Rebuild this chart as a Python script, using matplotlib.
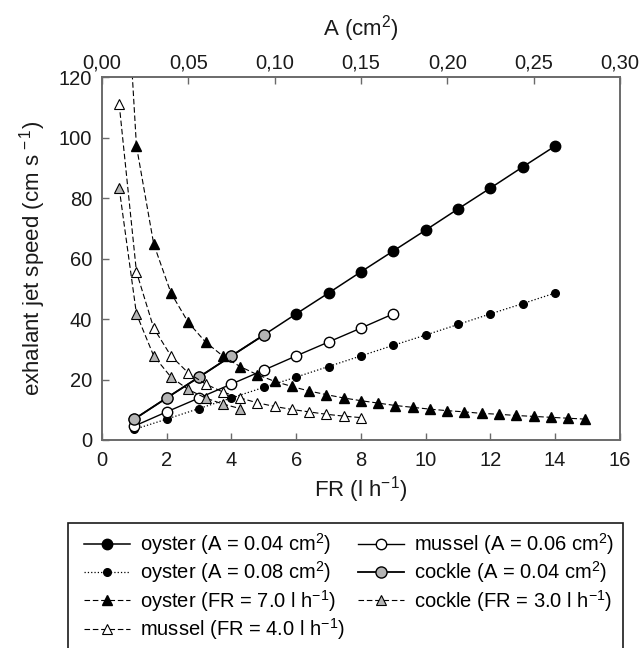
import numpy as np
import matplotlib
matplotlib.use('Agg')
import matplotlib.pyplot as plt
from matplotlib.patches import Rectangle

plt.rcParams['font.family'] = ['Liberation Sans', 'DejaVu Sans']
plt.rcParams['mathtext.fontset'] = 'custom'
plt.rcParams['mathtext.rm'] = 'Liberation Sans'
plt.rcParams['mathtext.it'] = 'Liberation Sans:italic'
plt.rcParams['mathtext.bf'] = 'Liberation Sans:bold'

# series against FR (bottom axis)
fr_oyster = [1, 2, 3, 4, 5, 6, 7, 8, 9, 10, 11, 12, 13, 14]
v_oyster_a004 = [6.9, 13.9, 20.8, 27.8, 34.7, 41.7, 48.6, 55.6, 62.5, 69.4, 76.4, 83.3, 90.3, 97.2]
v_oyster_a008 = [3.5, 6.9, 10.4, 13.9, 17.4, 20.8, 24.3, 27.8, 31.3, 34.7, 38.2, 41.7, 45.1, 48.6]
fr_mussel = [1, 2, 3, 4, 5, 6, 7, 8, 9]
v_mussel_a006 = [4.6, 9.3, 13.9, 18.5, 23.1, 27.8, 32.4, 37.0, 41.7]
fr_cockle = [1, 2, 3, 4, 5]
v_cockle_a004 = [6.9, 13.9, 20.8, 27.8, 34.7]

# series against A (top axis)
a_oyster = [0.02, 0.03, 0.04, 0.05, 0.06, 0.07, 0.08, 0.09, 0.10, 0.11, 0.12, 0.13, 0.14,
            0.15, 0.16, 0.17, 0.18, 0.19, 0.20, 0.21, 0.22, 0.23, 0.24, 0.25, 0.26, 0.27, 0.28]
v_oyster_fr7 = [97.2, 64.8, 48.6, 38.9, 32.4, 27.8, 24.3, 21.6, 19.4, 17.7, 16.2, 15.0, 13.9,
                13.0, 12.2, 11.4, 10.8, 10.2, 9.7, 9.3, 8.8, 8.5, 8.1, 7.8, 7.5, 7.2, 6.9]
a_mussel = [0.01, 0.02, 0.03, 0.04, 0.05, 0.06, 0.07, 0.08, 0.09, 0.10, 0.11, 0.12, 0.13, 0.14, 0.15]
v_mussel_fr4 = [111.1, 55.6, 37.0, 27.8, 22.2, 18.5, 15.9, 13.9, 12.3, 11.1, 10.1, 9.3, 8.5, 7.9, 7.4]
a_cockle = [0.01, 0.02, 0.03, 0.04, 0.05, 0.06, 0.07, 0.08]
v_cockle_fr3 = [83.3, 41.7, 27.8, 20.8, 16.7, 13.9, 11.9, 10.4]
# oyster FR=7 curve runs off the top of the plot
a_oyster_top = [0.01, 0.02]
v_oyster_top = [194.4, 97.2]

fr_ticks = [0, 2, 4, 6, 8, 10, 12, 14, 16]
v_ticks = [0, 20, 40, 60, 80, 100, 120]
a_ticks = [0.0, 0.05, 0.10, 0.15, 0.20, 0.25, 0.30]
a_ticklabels = ['0,00', '0,05', '0,10', '0,15', '0,20', '0,25', '0,30']

spine_col = '#6a6a6a'
txt_col = '#1a1a1a'
grey_fill = '#b4b4b4'
dash = (5, 2.5)

fig = plt.figure(figsize=(6.41, 6.48), dpi=100)
ax = fig.add_axes([0.159, 0.321, 0.808, 0.560])
ax2 = ax.twiny()

h1, = ax.plot(fr_oyster, v_oyster_a004, '-o', color='k', lw=1.1, ms=7.5, mfc='k', mec='k',
              label='oyster (A = 0.04 cm$^2$)')
h2, = ax.plot(fr_oyster, v_oyster_a008, ':o', color='k', lw=0.9, ms=5.5, mfc='k', mec='k',
              label='oyster (A = 0.08 cm$^2$)')
h5, = ax.plot(fr_mussel, v_mussel_a006, '-o', color='k', lw=1, ms=7.5, mfc='white', mec='k',
              label='mussel (A = 0.06 cm$^2$)')
h6, = ax.plot(fr_cockle, v_cockle_a004, '-o', color='k', lw=1.3, ms=8, mfc=grey_fill, mec='k',
              label='cockle (A = 0.04 cm$^2$)')

ax2.plot(a_oyster_top, v_oyster_top, '--', color='k', lw=0.8, dashes=dash)
h3, = ax2.plot(a_oyster, v_oyster_fr7, '--^', color='k', lw=0.8, dashes=dash, ms=7.5,
               mfc='k', mec='k', label='oyster (FR = 7.0 l h$^{-1}$)')
h4, = ax2.plot(a_mussel, v_mussel_fr4, '--^', color='k', lw=0.8, dashes=dash, ms=7.5,
               mfc='white', mec='k', mew=0.8, label='mussel (FR = 4.0 l h$^{-1}$)')
h7, = ax2.plot(a_cockle, v_cockle_fr3, '--^', color='k', lw=0.8, dashes=dash, ms=7.5,
               mfc=grey_fill, mec='k', mew=0.8, label='cockle (FR = 3.0 l h$^{-1}$)')

ax.set_xlim(0, 16)
ax.set_ylim(0, 120)
ax2.set_xlim(0, 0.30)
ax.set_xticks(fr_ticks)
ax.set_yticks(v_ticks)
ax2.set_xticks(a_ticks)
ax2.set_xticklabels(a_ticklabels)

for a in (ax, ax2):
    for s in a.spines.values():
        s.set_color(spine_col)
        s.set_linewidth(1.2)
    a.tick_params(direction='in', length=5, width=1, color=spine_col,
                  labelsize=14.5, labelcolor=txt_col)
ax.tick_params(top=False, right=False)
ax.tick_params(axis='x', pad=8)
ax.tick_params(axis='y', pad=7)
ax2.tick_params(top=True, bottom=False, right=False, pad=3)

ax.set_xlabel('FR (l h$^{-1}$)', fontsize=16, color=txt_col, labelpad=3)
ax.set_ylabel('exhalant jet speed (cm s$^{\\,-1}$)', fontsize=16, color=txt_col, labelpad=8)
ax2.set_xlabel('A (cm$^2$)', fontsize=16, color=txt_col, labelpad=13)

# legend box runs off the bottom of the figure
fig.add_artist(Rectangle((68 / 641, -0.05), (623 - 68) / 641, 0.05 + 1 - 523 / 648,
                         transform=fig.transFigure, fill=False, ec=txt_col, lw=1.2))

handles = [h1, h2, h3, h4, h5, h6, h7]
leg = fig.legend(handles, [h.get_label() for h in handles], ncol=2, loc='upper left',
                 bbox_to_anchor=(84 / 641, 0.0, (614 - 84) / 641, 1 - 531 / 648),
                 mode='expand', borderaxespad=0, fontsize=14.5, frameon=False,
                 handlelength=2.3, handletextpad=0.5, labelspacing=0.12, borderpad=0,
                 columnspacing=1.0)

fig.savefig('out.png', dpi=100)
